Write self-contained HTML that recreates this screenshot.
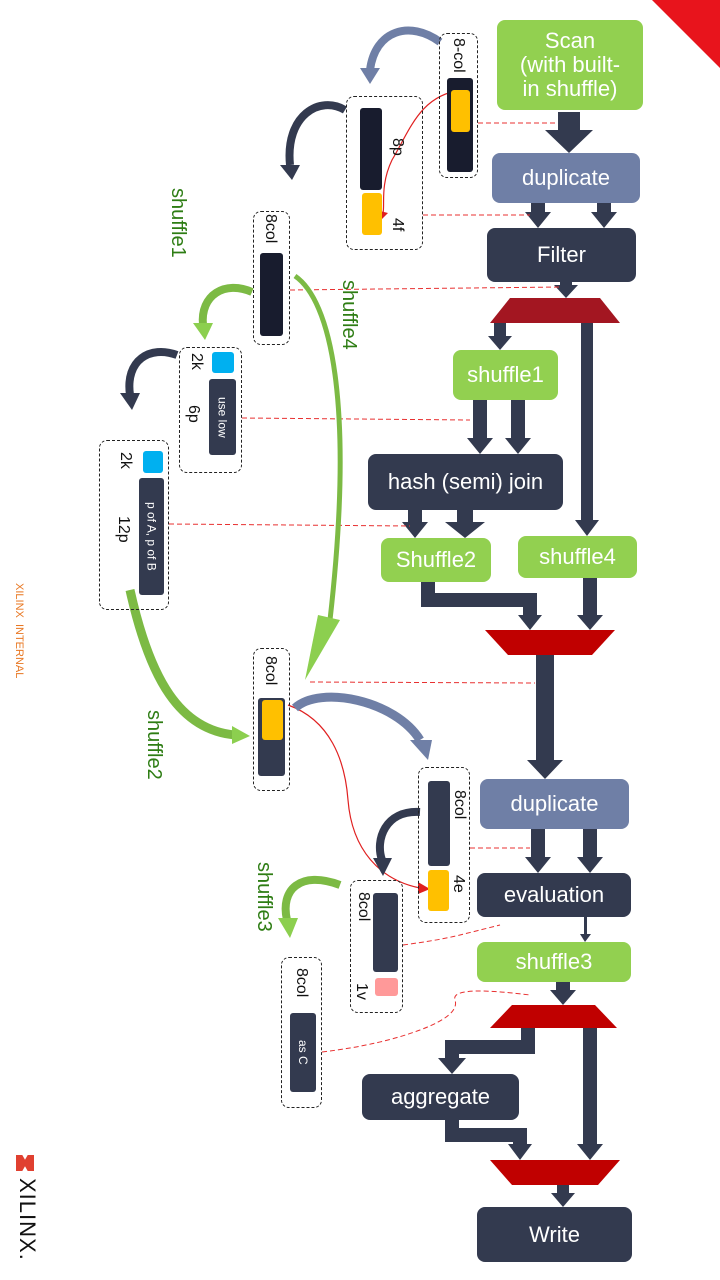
<!DOCTYPE html>
<html><head><meta charset="utf-8"><style>
body{margin:0;width:720px;height:1280px;position:relative;background:#fff;overflow:hidden;font-family:"Liberation Sans",sans-serif}
.n{position:absolute;color:#fff;border-radius:8px;display:flex;align-items:center;justify-content:center;text-align:center;font-size:22px;line-height:24px}
.g{background:#92d050}.d{background:#333a4f}.p{background:#6f7fa6}
.b{position:absolute;border:1.3px dashed #222;border-radius:8px;box-sizing:border-box}
.r{position:absolute;border-radius:3px}
.v{position:absolute;writing-mode:vertical-rl;white-space:nowrap}
.k{font-size:16px;color:#111}
.gl{font-size:20px;color:#2e7d14}
.w{color:#fff;font-size:12px;display:flex;align-items:center;justify-content:center}
</style></head><body>
<svg width="720" height="1280" style="position:absolute;left:0;top:0">
<polygon points="652,0 720,0 720,68" fill="#e8141c"/>
<g fill="#333a4f">
<rect x="558" y="112" width="22" height="20"/><polygon points="545,130 593,130 569,153"/>
<rect x="531" y="203" width="14" height="12"/><polygon points="525,212 551,212 538,228"/>
<rect x="597" y="203" width="14" height="12"/><polygon points="591,212 617,212 604,228"/>
<rect x="560" y="282" width="12" height="6"/><polygon points="554,285 578,285 566,298"/>
<rect x="494" y="323" width="12" height="15"/><polygon points="488,336 512,336 500,350"/>
<rect x="581" y="323" width="12" height="200"/><polygon points="575,520 599,520 587,536"/>
<rect x="473" y="400" width="14" height="40"/><polygon points="467,438 493,438 480,454"/>
<rect x="511" y="400" width="14" height="40"/><polygon points="505,438 531,438 518,454"/>
<rect x="408" y="510" width="14" height="14"/><polygon points="402,522 428,522 415,538"/>
<rect x="457" y="510" width="16" height="14"/><polygon points="445,522 485,522 465,538"/>
<path d="M428 582 V600 H530 V617" stroke="#333a4f" stroke-width="14" fill="none"/><polygon points="518,615 542,615 530,630"/>
<rect x="583" y="578" width="14" height="40"/><polygon points="577,615 603,615 590,630"/>
<rect x="536" y="655" width="18" height="108"/><polygon points="527,760 563,760 545,779"/>
<rect x="531" y="829" width="14" height="30"/><polygon points="525,857 551,857 538,873"/>
<rect x="583" y="829" width="14" height="30"/><polygon points="577,857 603,857 590,873"/>
<rect x="584" y="917" width="3" height="20"/><polygon points="580,934 591,934 585,942"/>
<rect x="556" y="982" width="14" height="10"/><polygon points="550,990 576,990 563,1005"/>
<path d="M528 1028 V1047 H452 V1060" stroke="#333a4f" stroke-width="14" fill="none"/><polygon points="438,1058 466,1058 452,1074"/>
<rect x="583" y="1028" width="14" height="118"/><polygon points="577,1144 603,1144 590,1160"/>
<path d="M452 1120 V1135 H520 V1146" stroke="#333a4f" stroke-width="14" fill="none"/><polygon points="508,1144 532,1144 520,1160"/>
<rect x="557" y="1185" width="12" height="10"/><polygon points="551,1193 575,1193 563,1207"/>
</g>
<polygon points="510,298 600,298 620,323 490,323" fill="#a31621"/>
<polygon points="485,630 615,630 592,655 508,655" fill="#c00000"/>
<polygon points="512,1005 595,1005 617,1028 490,1028" fill="#c00000"/>
<polygon points="490,1160 620,1160 598,1185 512,1185" fill="#c00000"/>
<g stroke="#e83030" stroke-width="1" stroke-dasharray="5,3" fill="none">
<line x1="478" y1="123" x2="555" y2="123"/>
<line x1="423" y1="215" x2="530" y2="215"/>
<line x1="290" y1="290" x2="560" y2="287"/>
<line x1="242" y1="418" x2="470" y2="420"/>
<line x1="169" y1="524" x2="410" y2="526"/>
<line x1="310" y1="682" x2="535" y2="683"/>
<line x1="470" y1="848" x2="530" y2="848"/>
<path d="M403 945 Q440 940 460 935 T500 925"/>
<path d="M322 1052 Q380 1045 420 1030 T455 1000 T530 995"/>
</g>
<path d="M462 90 C420 95 410 130 392 160 C380 185 385 205 383 213" stroke="#e02020" stroke-width="1.2" fill="none"/>
<polygon points="376,210 388,213 380,221" fill="#e02020"/>
<path d="M288 705 C330 720 345 760 348 800 C352 850 380 880 420 888" stroke="#e02020" stroke-width="1.2" fill="none"/>
<polygon points="418,882 430,889 418,894" fill="#e02020"/>
<g fill="none" stroke-linecap="butt">
<path d="M440 42 C410 20 375 30 370 70" stroke="#6f7fa6" stroke-width="8"/>
<path d="M345 110 C320 95 285 115 290 165" stroke="#333a4f" stroke-width="8"/>
<path d="M252 292 C225 280 200 295 203 325" stroke="#7cba44" stroke-width="8"/>
<path d="M177 355 C150 345 125 360 130 395" stroke="#333a4f" stroke-width="8"/>
<path d="M295 276 C330 300 355 400 330 620" stroke="#7cba44" stroke-width="5"/>
<path d="M130 590 C150 680 180 730 235 735" stroke="#7cba44" stroke-width="9"/>
<path d="M295 708 C320 685 395 700 420 740" stroke="#6f7fa6" stroke-width="9"/>
<path d="M420 812 C385 810 375 840 382 860" stroke="#333a4f" stroke-width="8"/>
<path d="M340 885 C300 870 280 890 287 920" stroke="#7cba44" stroke-width="8"/>
</g>
<polygon points="360,68 380,68 370,84" fill="#6f7fa6"/>
<polygon points="280,165 300,165 292,180" fill="#333a4f"/>
<polygon points="193,323 213,323 205,340" fill="#8ccf4f"/>
<polygon points="120,393 140,393 132,410" fill="#333a4f"/>
<polygon points="318,615 340,620 305,680" fill="#8ccf4f"/>
<polygon points="232,726 250,736 232,744" fill="#8ccf4f"/>
<polygon points="410,740 432,740 428,760" fill="#6f7fa6"/>
<polygon points="373,858 392,858 383,876" fill="#333a4f"/>
<polygon points="278,918 298,918 290,938" fill="#8ccf4f"/>
</svg>
<div class="n g" style="left:497px;top:20px;width:146px;height:90px">Scan<br>(with built-<br>in shuffle)</div>
<div class="n p" style="left:492px;top:153px;width:148px;height:50px">duplicate</div>
<div class="n d" style="left:487px;top:228px;width:149px;height:54px">Filter</div>
<div class="n g" style="left:453px;top:350px;width:105px;height:50px">shuffle1</div>
<div class="n d" style="left:368px;top:454px;width:195px;height:56px">hash (semi) join</div>
<div class="n g" style="left:381px;top:538px;width:110px;height:44px">Shuffle2</div>
<div class="n g" style="left:518px;top:536px;width:119px;height:42px">shuffle4</div>
<div class="n p" style="left:480px;top:779px;width:149px;height:50px">duplicate</div>
<div class="n d" style="left:477px;top:873px;width:154px;height:44px">evaluation</div>
<div class="n g" style="left:477px;top:942px;width:154px;height:40px">shuffle3</div>
<div class="n d" style="left:362px;top:1074px;width:157px;height:46px">aggregate</div>
<div class="n d" style="left:477px;top:1207px;width:155px;height:55px">Write</div>

<div class="b" style="left:439px;top:33px;width:39px;height:145px"></div>
<div class="v k" style="left:449px;top:38px">8-col</div>
<div class="r" style="left:447px;top:78px;width:26px;height:94px;background:#181c2e"></div>
<div class="r" style="left:451px;top:90px;width:19px;height:42px;background:#ffc000"></div>

<div class="b" style="left:346px;top:96px;width:77px;height:154px"></div>
<div class="r" style="left:360px;top:108px;width:22px;height:82px;background:#181c2e"></div>
<div class="r" style="left:362px;top:193px;width:20px;height:42px;background:#ffc000"></div>
<div class="v k" style="left:388px;top:138px">8p</div>
<div class="v k" style="left:388px;top:218px">4f</div>

<div class="b" style="left:253px;top:211px;width:37px;height:134px"></div>
<div class="v k" style="left:261px;top:214px">8col</div>
<div class="r" style="left:260px;top:253px;width:23px;height:83px;background:#181c2e"></div>

<div class="b" style="left:179px;top:347px;width:63px;height:126px"></div>
<div class="r" style="left:212px;top:352px;width:22px;height:21px;background:#00b0f0"></div>
<div class="r w v" style="left:209px;top:379px;width:27px;height:76px;background:#333a4f">use low</div>
<div class="v k" style="left:187px;top:353px">2k</div>
<div class="v k" style="left:184px;top:405px">6p</div>

<div class="b" style="left:99px;top:440px;width:70px;height:170px"></div>
<div class="r" style="left:143px;top:451px;width:20px;height:22px;background:#00b0f0"></div>
<div class="r w v" style="left:139px;top:478px;width:25px;height:117px;background:#333a4f">p of A, p of B</div>
<div class="v k" style="left:116px;top:452px">2k</div>
<div class="v k" style="left:114px;top:516px">12p</div>

<div class="b" style="left:253px;top:648px;width:37px;height:143px"></div>
<div class="v k" style="left:261px;top:656px">8col</div>
<div class="r" style="left:258px;top:698px;width:27px;height:78px;background:#333a4f"></div>
<div class="r" style="left:262px;top:700px;width:21px;height:40px;background:#ffc000"></div>

<div class="b" style="left:418px;top:767px;width:52px;height:156px"></div>
<div class="r" style="left:428px;top:781px;width:22px;height:85px;background:#333a4f"></div>
<div class="r" style="left:428px;top:870px;width:21px;height:41px;background:#ffc000"></div>
<div class="v k" style="left:450px;top:790px">8col</div>
<div class="v k" style="left:449px;top:875px">4e</div>

<div class="b" style="left:350px;top:880px;width:53px;height:133px"></div>
<div class="v k" style="left:354px;top:892px">8col</div>
<div class="r" style="left:373px;top:893px;width:25px;height:79px;background:#333a4f"></div>
<div class="r" style="left:375px;top:978px;width:23px;height:18px;background:#ff9999"></div>
<div class="v k" style="left:352px;top:983px">1v</div>

<div class="b" style="left:281px;top:957px;width:41px;height:151px"></div>
<div class="v k" style="left:292px;top:968px">8col</div>
<div class="r w v" style="left:290px;top:1013px;width:26px;height:79px;background:#333a4f">as C</div>

<div class="v gl" style="left:166px;top:188px">shuffle1</div>
<div class="v gl" style="left:337px;top:280px">shuffle4</div>
<div class="v gl" style="left:142px;top:710px">shuffle2</div>
<div class="v gl" style="left:252px;top:862px">shuffle3</div>
<div class="v" style="left:13px;top:583px;font-size:11px;color:#e87722">XILINX&nbsp; INTERNAL</div>
<div style="position:absolute;left:16px;top:1155px;width:18px;height:16px;background:#e04030;clip-path:polygon(0 0,35% 0,50% 30%,65% 0,100% 0,100% 100%,65% 100%,50% 70%,35% 100%,0 100%)"></div>
<div class="v" style="left:14px;top:1178px;font-size:22px;color:#111;letter-spacing:1px">XILINX.</div>
</body></html>
